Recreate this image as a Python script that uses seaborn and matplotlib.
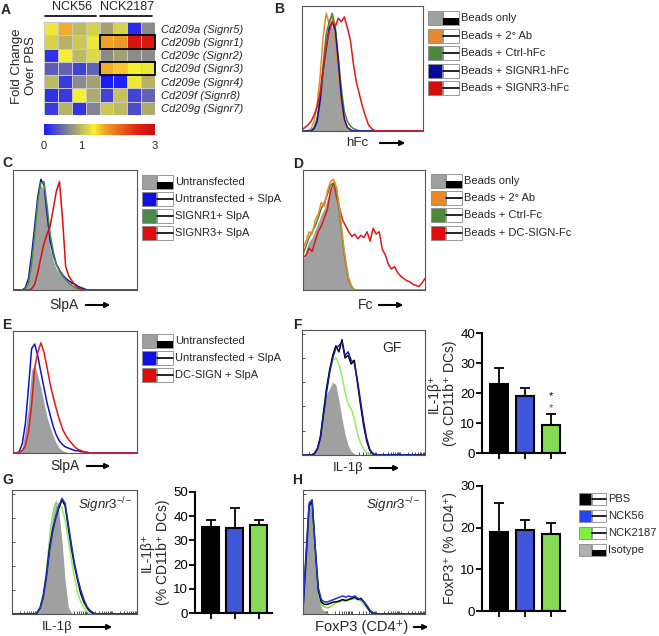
import numpy as np
import pandas as pd
import matplotlib
matplotlib.use('Agg')
import matplotlib.pyplot as plt
import seaborn as sns
from matplotlib.colors import LinearSegmentedColormap
from matplotlib.patches import Rectangle, FancyArrowPatch
from matplotlib.lines import Line2D

# ---- data -------------------------------------------------------------
# A: fold change over PBS (rows = genes, cols = 4 NCK56 + 4 NCK2187 mice)
genes = ['Cd209a (Signr5)', 'Cd209b (Signr1)', 'Cd209c (Signr2)', 'Cd209d (Signr3)',
         'Cd209e (Signr4)', 'Cd209f (Signr8)', 'Cd209g (Signr7)']
strains = ['NCK56', 'NCK2187']
fold_a = [1.3, 1.6, 1.0, 1.15, 0.85, 1.15, 0.1, 0.7]
fold_b = [1.15, 0.95, 1.1, 1.3, 1.65, 1.7, 2.8, 2.7]
fold_c = [0.15, 1.35, 1.0, 1.2, 0.7, 0.85, 0.7, 0.7]
fold_d = [0.4, 0.45, 0.25, 0.45, 1.6, 1.5, 1.35, 1.3]
fold_e = [1.0, 0.2, 0.7, 0.85, 0.0, 0.05, 1.3, 0.95]
fold_f = [0.15, 0.2, 1.35, 0.9, 0.25, 1.05, 0.25, 0.45]
fold_g = [0.2, 0.95, 0.15, 0.65, 1.1, 1.0, 0.3, 0.9]
boxed_genes = ['Cd209b (Signr1)', 'Cd209d (Signr3)']

# histogram curves (normalised counts on a 41-bin grid, trailing zeros omitted)
b_gray = [0, 0, 0, 0.01, 0.05, 0.15, 0.35, 0.6, 0.8, 0.88, 0.85, 0.7, 0.45, 0.2, 0.07, 0.01]
b_orange = [0, 0, 0, 0.02, 0.08, 0.22, 0.45, 0.78, 0.97, 0.88, 0.95, 0.72, 0.48, 0.22, 0.07, 0.02]
b_green = [0, 0, 0, 0, 0.03, 0.1, 0.3, 0.55, 0.8, 0.9, 0.97, 0.86, 0.6, 0.35, 0.16, 0.08, 0.04, 0.02, 0.01]
b_blue = [0, 0, 0, 0, 0.02, 0.08, 0.25, 0.5, 0.68, 0.85, 0.9, 0.83, 0.58, 0.28, 0.1, 0.03, 0.01]
b_red = [0.01, 0.03, 0.05, 0.08, 0.13, 0.2, 0.32, 0.5, 0.7, 0.82, 0.9, 0.86, 0.93, 0.9, 0.94, 0.85,
         0.75, 0.55, 0.4, 0.3, 0.2, 0.12, 0.05, 0.02, 0.005]

c_gray = [0, 0, 0, 0, 0.02, 0.08, 0.25, 0.5, 0.75, 0.9, 0.85, 0.6, 0.35, 0.25, 0.18, 0.15, 0.12,
          0.09, 0.06, 0.04, 0.02, 0.01]
c_blue = [0, 0, 0, 0, 0.02, 0.1, 0.3, 0.55, 0.8, 0.95, 0.9, 0.65, 0.42, 0.3, 0.22, 0.17, 0.13,
          0.1, 0.08, 0.06, 0.05, 0.03, 0.02, 0.01]
c_green = [0, 0, 0, 0, 0.01, 0.06, 0.22, 0.48, 0.75, 0.92, 0.93, 0.72, 0.48, 0.33, 0.22, 0.16,
           0.12, 0.09, 0.06, 0.04, 0.02, 0.01]
c_red = [0, 0, 0, 0, 0, 0, 0.01, 0.05, 0.15, 0.28, 0.4, 0.48, 0.55, 0.7, 0.85, 0.93, 0.6, 0.2,
         0.12, 0.08, 0.04, 0.02, 0.01]

d_gray = [0.25, 0.35, 0.42, 0.45, 0.52, 0.58, 0.65, 0.7, 0.78, 0.86, 0.9, 0.8, 0.6, 0.38, 0.18,
          0.06, 0.01]
d_orange = [0.36, 0.42, 0.5, 0.48, 0.6, 0.65, 0.75, 0.72, 0.85, 0.93, 0.95, 0.88, 0.7, 0.45, 0.25,
            0.1, 0.03]
d_green = [0.3, 0.38, 0.45, 0.5, 0.55, 0.62, 0.7, 0.75, 0.82, 0.9, 0.92, 0.85, 0.65, 0.42, 0.22,
           0.08, 0.02]
d_red = [0.28, 0.3, 0.36, 0.33, 0.42, 0.5, 0.55, 0.62, 0.69, 0.85, 0.92, 0.8, 0.7, 0.6, 0.55,
         0.5, 0.46, 0.48, 0.44, 0.47, 0.45, 0.5, 0.42, 0.53, 0.48, 0.5, 0.35, 0.3, 0.22, 0.18,
         0.2, 0.15, 0.12, 0.1, 0.08, 0.07, 0.05, 0.04, 0.03, 0.06, 0.1]

e_gray = [0, 0, 0, 0.05, 0.2, 0.4, 0.7, 0.74, 0.65, 0.55, 0.42, 0.3, 0.22, 0.14, 0.08, 0.04,
          0.02, 0.01]
e_blue = [0, 0, 0.01, 0.08, 0.25, 0.55, 0.88, 0.92, 0.82, 0.68, 0.55, 0.42, 0.32, 0.22, 0.15,
          0.1, 0.07, 0.05, 0.04, 0.03, 0.02, 0.02, 0.01, 0.01, 0.005]
e_red = [0, 0, 0.005, 0.02, 0.06, 0.18, 0.4, 0.72, 0.85, 0.93, 0.85, 0.72, 0.58, 0.47, 0.37,
         0.28, 0.2, 0.15, 0.11, 0.08, 0.05, 0.03, 0.02, 0.01, 0.005]

f_gray = [0, 0, 0, 0, 0.02, 0.08, 0.2, 0.38, 0.5, 0.55, 0.6, 0.58, 0.45, 0.3, 0.17, 0.08, 0.03, 0.01]
f_black = [0, 0, 0, 0, 0.01, 0.05, 0.15, 0.35, 0.55, 0.7, 0.82, 0.9, 0.85, 0.95, 0.8, 0.82, 0.75,
           0.78, 0.6, 0.42, 0.25, 0.12, 0.04, 0.01]
f_blue = [0, 0, 0, 0, 0.01, 0.05, 0.14, 0.33, 0.52, 0.68, 0.8, 0.88, 0.9, 0.93, 0.82, 0.85, 0.78,
          0.76, 0.62, 0.45, 0.28, 0.14, 0.05, 0.01]
f_green = [0, 0, 0, 0, 0.01, 0.05, 0.15, 0.35, 0.55, 0.7, 0.78, 0.8, 0.75, 0.65, 0.52, 0.42, 0.38,
           0.3, 0.18, 0.1, 0.05, 0.02]

g_gray = [0, 0, 0, 0, 0, 0, 0, 0, 0.01, 0.06, 0.2, 0.45, 0.72, 0.88, 0.95, 0.85, 0.6, 0.28, 0.06, 0.01]
g_black = [0, 0, 0, 0, 0, 0, 0, 0, 0.01, 0.05, 0.15, 0.32, 0.55, 0.7, 0.8, 0.88, 0.95, 0.9, 0.72,
           0.55, 0.4, 0.28, 0.17, 0.1, 0.05, 0.02, 0.005]
g_blue = [0, 0, 0, 0, 0, 0, 0, 0, 0.01, 0.05, 0.14, 0.3, 0.52, 0.68, 0.8, 0.9, 0.96, 0.92, 0.75,
          0.58, 0.42, 0.3, 0.2, 0.12, 0.06, 0.03, 0.01]
g_green = [0, 0, 0, 0, 0, 0, 0, 0, 0.01, 0.06, 0.16, 0.35, 0.6, 0.8, 0.9, 0.92, 0.88, 0.78, 0.62,
           0.45, 0.3, 0.18, 0.1, 0.05, 0.02]

h_gray = [0.1, 0.6, 0.95, 0.85, 0.45, 0.15, 0.05, 0.02, 0.01]
h_blue = [0.05, 0.5, 0.92, 0.95, 0.55, 0.22, 0.12, 0.1, 0.1, 0.11, 0.12, 0.13, 0.14, 0.15, 0.14,
          0.15, 0.14, 0.15, 0.13, 0.12, 0.1, 0.07, 0.03, 0.01]
h_black = [0.04, 0.45, 0.9, 0.93, 0.55, 0.2, 0.1, 0.08, 0.08, 0.09, 0.1, 0.1, 0.11, 0.12, 0.11,
           0.12, 0.13, 0.14, 0.12, 0.13, 0.1, 0.06, 0.02, 0.01]
h_green = [0.05, 0.5, 0.9, 0.9, 0.5, 0.18, 0.08, 0.06, 0.05, 0.06, 0.08, 0.1, 0.1, 0.11, 0.12,
           0.12, 0.12, 0.13, 0.12, 0.11, 0.08, 0.05, 0.02, 0.01]

# bar charts
groups = ['PBS', 'NCK56', 'NCK2187']
f_means = [23.0, 19.0, 9.3]
f_err = [5.3, 2.7, 3.7]
g_means = [35.5, 35.3, 36.4]
g_err = [2.9, 8.0, 2.0]
h_means = [19.0, 19.4, 18.4]
h_err = [6.9, 2.5, 2.7]

# ---- style ------------------------------------------------------------
W, H = 659, 636
sns.set_theme(style='white')
plt.rcParams['font.family'] = ['Liberation Sans', 'DejaVu Sans']
plt.rcParams['mathtext.fontset'] = 'custom'
plt.rcParams['mathtext.rm'] = 'Liberation Sans'
plt.rcParams['mathtext.it'] = 'Liberation Sans:italic'

GRAY = '#a0a0a0'
bar_colors = ['#000000', '#2446f2', '#80f040']
grid = np.linspace(0, 1, 41)

fig = plt.figure(figsize=(W / 100, H / 100), dpi=100)


def box(x0, y0, x1, y1):
    # pixel box (top-left origin) -> figure fraction rect
    return [x0 / W, 1 - y1 / H, (x1 - x0) / W, (y1 - y0) / H]


def ftext(x, y, s, **kw):
    kw.setdefault('va', 'center')
    fig.text(x / W, 1 - y / H, s, **kw)


def arrow(x0, x1, y):
    fig.add_artist(FancyArrowPatch((x0 / W, 1 - y / H), (x1 / W, 1 - y / H),
                                   transform=fig.transFigure, arrowstyle='-|>',
                                   mutation_scale=7, lw=1.5, color='black'))


def pad(vals):
    return list(vals) + [0] * (len(grid) - len(vals))


def hist(rect, fill, lines, ticks=False):
    ax = fig.add_axes(box(*rect))
    ax.fill_between(grid, pad(fill), color=GRAY, lw=0)
    for vals, c in lines:
        ax.plot(grid, pad(vals), color=c, lw=1.1)
    ax.set_xlim(0, 1)
    ax.set_ylim(0, 1.03)
    ax.set_xticks([])
    ax.set_yticks([])
    for s in ax.spines.values():
        s.set_visible(True)
        s.set_color('#555555')
        s.set_linewidth(0.8)
    if ticks:
        minor = [d * 0.2 + 0.2 * np.log10(k) for d in range(5) for k in range(1, 10)]
        ax.set_xticks(minor)
        ax.set_yticks([0.2, 0.4, 0.6, 0.8, 1.0])
        ax.tick_params(direction='in', length=2.5, width=0.6, colors='#333333',
                       labelbottom=False, labelleft=False, bottom=True, left=True)
    return ax


def legend(x0, ys, colors, labels, kinds, sq=14, fs=8):
    for y, c, lab, kind in zip(ys, colors, labels, kinds):
        top = y - sq / 2
        fig.add_artist(Rectangle((x0 / W, 1 - (top + sq) / H), sq / W, sq / H,
                                 transform=fig.transFigure, facecolor=c,
                                 edgecolor='#888888', lw=0.6))
        x1 = x0 + sq + 1
        fig.add_artist(Rectangle((x1 / W, 1 - (top + sq) / H), (sq + 2) / W, sq / H,
                                 transform=fig.transFigure, facecolor='white',
                                 edgecolor='#888888', lw=0.6))
        if kind == 'fill':
            fig.add_artist(Rectangle((x1 / W, 1 - (top + sq) / H), (sq + 2) / W, sq / 2 / H,
                                     transform=fig.transFigure, facecolor='black',
                                     edgecolor='none'))
        else:
            fig.add_artist(Line2D([x1 / W, (x1 + sq + 2) / W], [1 - y / H, 1 - y / H],
                                  transform=fig.transFigure, color='black', lw=1.2))
        ftext(x1 + sq + 4, y, lab, fontsize=fs, ha='left')


def bars(rect, means, errs, ylim, yticks, ylabel):
    ax = fig.add_axes(box(*rect))
    sns.barplot(x=groups, y=means, hue=groups, palette=bar_colors, edgecolor='black',
                linewidth=1.5, width=0.7, ax=ax, legend=False)
    ax.errorbar(range(len(groups)), means, yerr=[[0] * len(groups), errs], fmt='none',
                ecolor='black', elinewidth=1.3, capsize=3.5, capthick=1.3, zorder=1)
    ax.set_xlim(-0.65, 2.55)
    ax.set_ylim(*ylim)
    ax.set_yticks(yticks)
    ax.set_xticks(range(len(groups)))
    ax.set_xticklabels([])
    ax.set_xlabel('')
    sns.despine(ax=ax)
    for s in ['left', 'bottom']:
        ax.spines[s].set_linewidth(1.5)
        ax.spines[s].set_color('black')
    ax.tick_params(direction='out', length=4, width=1.3, labelsize=9.5, left=True,
                   bottom=True, pad=1, colors='black')
    ax.set_ylabel(ylabel, fontsize=10, labelpad=2)
    return ax


# ---- A: heatmap -------------------------------------------------------
heat = pd.DataFrame([fold_a, fold_b, fold_c, fold_d, fold_e, fold_f, fold_g], index=genes)
cmap = LinearSegmentedColormap.from_list(
    'bgyr', [(0, '#1a1aff'), (0.23, '#8a8a8a'), (0.45, '#f8f030'), (0.55, '#f0a028'),
             (0.85, '#e02010'), (1, '#c81010')])
hax = fig.add_axes(box(44, 22, 155, 115))
cax = fig.add_axes(box(44, 124, 155, 135))
sns.heatmap(heat, cmap=cmap, vmin=0, vmax=3, linewidths=0.6, linecolor='#c8c8c8',
            xticklabels=False, yticklabels=genes, ax=hax, cbar_ax=cax,
            cbar_kws={'orientation': 'horizontal', 'ticks': [0, 1, 3]})
hax.yaxis.tick_right()
hax.set_yticks(np.arange(len(genes)) + 0.5)
hax.set_yticklabels(genes, rotation=0, fontsize=8, style='italic')
hax.tick_params(axis='y', length=0, pad=4)
hax.set_ylabel('')
for g in boxed_genes:
    r = genes.index(g)
    hax.add_patch(Rectangle((4, r), 4, 1, fill=False, edgecolor='black', lw=1.3, clip_on=False))
for i, s in enumerate(strains):
    hax.text(i * 4 + 2, -1.15, s, ha='center', va='center', fontsize=9, clip_on=False)
    hax.plot([i * 4 + 0.05, i * 4 + 3.75], [-0.45, -0.45], color='black', lw=1.2, clip_on=False)
cax.tick_params(length=0, labelsize=8, pad=4)
for s in cax.spines.values():
    s.set_visible(False)
cbar = hax.collections[0].colorbar
if cbar is not None:
    cbar.outline.set_visible(False)
ftext(24, 66, 'Fold Change\nOver PBS', fontsize=9.5, rotation=90, ha='center')

# ---- B-E: binding histograms -----------------------------------------
hist((302, 6, 423, 131), b_gray,
     [(b_orange, '#e8892c'), (b_green, '#4a8a3a'), (b_blue, '#12129a'), (b_red, '#e01818')])
legend(428, [18, 36, 53, 71, 88], [GRAY, '#e8892c', '#4a8a3a', '#0a0a9a', '#d80c0c'],
       ['Beads only', 'Beads + 2° Ab', 'Beads + Ctrl-hFc', 'Beads + SIGNR1-hFc',
        'Beads + SIGNR3-hFc'], ['fill', 'line', 'line', 'line', 'line'])

hist((13, 170, 137, 290), c_gray,
     [(c_blue, '#1010b0'), (c_green, '#4a8a4a'), (c_red, '#e00c0c')])
legend(142, [182, 199, 216, 233], [GRAY, '#1010e0', '#4a8a4a', '#e00c0c'],
       ['Untransfected', 'Untransfected + SlpA', 'SIGNR1+ SlpA', 'SIGNR3+ SlpA'],
       ['fill', 'line', 'line', 'line'])

hist((303, 170, 425, 290), d_gray,
     [(d_red, '#e01818'), (d_green, '#4a8a3a'), (d_orange, '#e8892c')])
legend(431, [181, 198, 215, 233], [GRAY, '#e8892c', '#4a8a3a', '#e00c0c'],
       ['Beads only', 'Beads + 2° Ab', 'Beads + Ctrl-Fc', 'Beads + DC-SIGN-Fc'],
       ['fill', 'line', 'line', 'line'])

hist((13, 331, 137, 453), e_gray, [(e_blue, '#1010d0'), (e_red, '#e01818')])
legend(142, [341, 358, 375], [GRAY, '#1010e0', '#e00c0c'],
       ['Untransfected', 'Untransfected + SlpA', 'DC-SIGN + SlpA'], ['fill', 'line', 'line'])

# ---- F-H: DC / Treg histograms + bars ---------------------------------
fax = hist((302, 330, 425, 455), f_gray,
           [(f_green, '#90ee60'), (f_black, '#000000'), (f_blue, '#1a1a9a')], ticks=True)
fax.text(0.73, 0.86, 'GF', transform=fax.transAxes, fontsize=10, ha='center', va='center')
fb = bars((482, 333, 565, 453), f_means, f_err, (0, 40), [0, 10, 20, 30, 40],
          'IL-1β⁺\n(% CD11b⁺ DCs)')
fb.text(2, f_means[2] + f_err[2] + 6.0, '*', ha='center', va='center', fontsize=8, color='black')
fb.text(2, f_means[2] + f_err[2] + 2.0, '*', ha='center', va='center', fontsize=8, color='#e02020')

gax = hist((12, 490, 137, 614), g_gray,
           [(g_green, '#90ee60'), (g_black, '#000000'), (g_blue, '#2030c8')], ticks=True)
gax.text(0.97, 0.88, r'$\mathit{Signr3}^{-/-}$', transform=gax.transAxes, fontsize=9.5,
         ha='right', va='center')
bars((195, 492, 272, 613), g_means, g_err, (0, 50), [0, 10, 20, 30, 40, 50],
     'IL-1β⁺\n(% CD11b⁺ DCs)')

hax2 = hist((303, 490, 425, 614), h_gray,
            [(h_green, '#78e040'), (h_black, '#000000'), (h_blue, '#2030d0')], ticks=True)
hax2.text(0.97, 0.88, r'$\mathit{Signr3}^{-/-}$', transform=hax2.transAxes, fontsize=9.5,
          ha='right', va='center')
bars((482, 486, 565, 611), h_means, h_err, (0, 30), [0, 10, 20, 30], 'FoxP3⁺ (% CD4⁺)')
legend(579, [499, 516, 533, 550], bar_colors + ['#b0b0b0'],
       groups + ['Isotype'], ['line', 'line', 'line', 'fill'], sq=12)

# ---- axis captions with arrows -----------------------------------------
ftext(368, 143, 'hFc', ha='right', fontsize=9.5)
arrow(377, 408, 143)
ftext(79, 305, 'SlpA', ha='right', fontsize=10)
arrow(83, 113, 305)
ftext(373, 305, 'Fc', ha='right', fontsize=10)
arrow(376, 406, 305)
ftext(80, 466, 'SlpA', ha='right', fontsize=10)
arrow(84, 113, 466)
ftext(363, 468, 'IL-1β', ha='right', fontsize=9.5)
arrow(367, 402, 468)
ftext(72, 627, 'IL-1β', ha='right', fontsize=9.5)
arrow(77, 115, 627)
ftext(408, 627, 'FoxP3 (CD4⁺)', ha='right', fontsize=10.5)
arrow(411, 431, 627)

# panel letters
for lab, x, y in [('A', 1, 10), ('B', 274, 9), ('C', 2, 163), ('D', 293, 164),
                  ('E', 2, 325), ('F', 293, 325), ('G', 2, 480), ('H', 292, 480)]:
    ftext(x, y, lab, fontsize=10, fontweight='bold', ha='left')

fig.savefig('out.png', dpi=100)
